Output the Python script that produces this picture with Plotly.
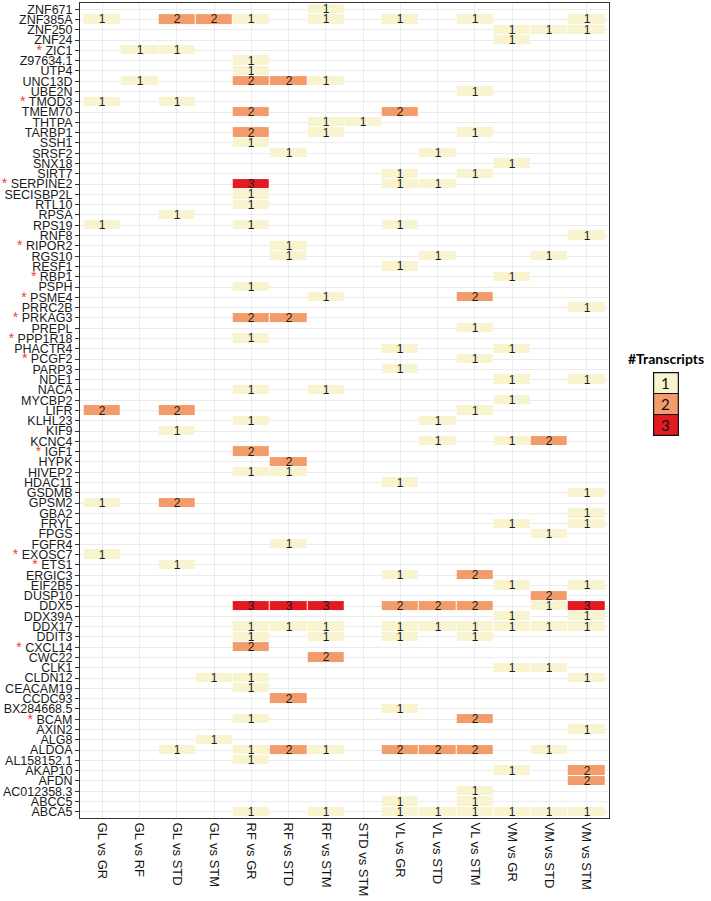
import plotly.graph_objects as go

comparisons = ["GL vs GR", "GL vs RF", "GL vs STD", "GL vs STM", "RF vs GR", "RF vs STD",
               "RF vs STM", "STD vs STM", "VL vs GR", "VL vs STD", "VL vs STM",
               "VM vs GR", "VM vs STD", "VM vs STM"]

genes = ["ZNF671", "ZNF385A", "ZNF250", "ZNF24", "ZIC1", "Z97634.1", "UTP4", "UNC13D", "UBE2N",
         "TMOD3", "TMEM70", "THTPA", "TARBP1", "SSH1", "SRSF2", "SNX18", "SIRT7", "SERPINE2",
         "SECISBP2L", "RTL10", "RPSA", "RPS19", "RNF8", "RIPOR2", "RGS10", "RESF1", "RBP1",
         "PSPH", "PSME4", "PRRC2B", "PRKAG3", "PREPL", "PPP1R18", "PHACTR4", "PCGF2", "PARP3",
         "NDE1", "NACA", "MYCBP2", "LIFR", "KLHL23", "KIF9", "KCNC4", "IGF1", "HYPK", "HIVEP2",
         "HDAC11", "GSDMB", "GPSM2", "GBA2", "FRYL", "FPGS", "FGFR4", "EXOSC7", "ETS1", "ERGIC3",
         "EIF2B5", "DUSP10", "DDX5", "DDX39A", "DDX17", "DDIT3", "CXCL14", "CWC22", "CLK1",
         "CLDN12", "CEACAM19", "CCDC93", "BX284668.5", "BCAM", "AXIN2", "ALG8", "ALDOA",
         "AL158152.1", "AKAP10", "AFDN", "AC012358.3", "ABCC5", "ABCA5"]

starred = ["ZIC1", "TMOD3", "SERPINE2", "RIPOR2", "RBP1", "PSME4", "PRKAG3", "PPP1R18",
           "PCGF2", "IGF1", "EXOSC7", "ETS1", "CXCL14", "BCAM"]

# number of transcripts per gene (rows, same order as genes) and comparison (columns); 0 = none
counts = [
    [0, 0, 0, 0, 0, 0, 1, 0, 0, 0, 0, 0, 0, 0],  # ZNF671
    [1, 0, 2, 2, 1, 0, 1, 0, 1, 0, 1, 0, 0, 1],  # ZNF385A
    [0, 0, 0, 0, 0, 0, 0, 0, 0, 0, 0, 1, 1, 1],  # ZNF250
    [0, 0, 0, 0, 0, 0, 0, 0, 0, 0, 0, 1, 0, 0],  # ZNF24
    [0, 1, 1, 0, 0, 0, 0, 0, 0, 0, 0, 0, 0, 0],  # ZIC1
    [0, 0, 0, 0, 1, 0, 0, 0, 0, 0, 0, 0, 0, 0],  # Z97634.1
    [0, 0, 0, 0, 1, 0, 0, 0, 0, 0, 0, 0, 0, 0],  # UTP4
    [0, 1, 0, 0, 2, 2, 1, 0, 0, 0, 0, 0, 0, 0],  # UNC13D
    [0, 0, 0, 0, 0, 0, 0, 0, 0, 0, 1, 0, 0, 0],  # UBE2N
    [1, 0, 1, 0, 0, 0, 0, 0, 0, 0, 0, 0, 0, 0],  # TMOD3
    [0, 0, 0, 0, 2, 0, 0, 0, 2, 0, 0, 0, 0, 0],  # TMEM70
    [0, 0, 0, 0, 0, 0, 1, 1, 0, 0, 0, 0, 0, 0],  # THTPA
    [0, 0, 0, 0, 2, 0, 1, 0, 0, 0, 1, 0, 0, 0],  # TARBP1
    [0, 0, 0, 0, 1, 0, 0, 0, 0, 0, 0, 0, 0, 0],  # SSH1
    [0, 0, 0, 0, 0, 1, 0, 0, 0, 1, 0, 0, 0, 0],  # SRSF2
    [0, 0, 0, 0, 0, 0, 0, 0, 0, 0, 0, 1, 0, 0],  # SNX18
    [0, 0, 0, 0, 0, 0, 0, 0, 1, 0, 1, 0, 0, 0],  # SIRT7
    [0, 0, 0, 0, 3, 0, 0, 0, 1, 1, 0, 0, 0, 0],  # SERPINE2
    [0, 0, 0, 0, 1, 0, 0, 0, 0, 0, 0, 0, 0, 0],  # SECISBP2L
    [0, 0, 0, 0, 1, 0, 0, 0, 0, 0, 0, 0, 0, 0],  # RTL10
    [0, 0, 1, 0, 0, 0, 0, 0, 0, 0, 0, 0, 0, 0],  # RPSA
    [1, 0, 0, 0, 1, 0, 0, 0, 1, 0, 0, 0, 0, 0],  # RPS19
    [0, 0, 0, 0, 0, 0, 0, 0, 0, 0, 0, 0, 0, 1],  # RNF8
    [0, 0, 0, 0, 0, 1, 0, 0, 0, 0, 0, 0, 0, 0],  # RIPOR2
    [0, 0, 0, 0, 0, 1, 0, 0, 0, 1, 0, 0, 1, 0],  # RGS10
    [0, 0, 0, 0, 0, 0, 0, 0, 1, 0, 0, 0, 0, 0],  # RESF1
    [0, 0, 0, 0, 0, 0, 0, 0, 0, 0, 0, 1, 0, 0],  # RBP1
    [0, 0, 0, 0, 1, 0, 0, 0, 0, 0, 0, 0, 0, 0],  # PSPH
    [0, 0, 0, 0, 0, 0, 1, 0, 0, 0, 2, 0, 0, 0],  # PSME4
    [0, 0, 0, 0, 0, 0, 0, 0, 0, 0, 0, 0, 0, 1],  # PRRC2B
    [0, 0, 0, 0, 2, 2, 0, 0, 0, 0, 0, 0, 0, 0],  # PRKAG3
    [0, 0, 0, 0, 0, 0, 0, 0, 0, 0, 1, 0, 0, 0],  # PREPL
    [0, 0, 0, 0, 1, 0, 0, 0, 0, 0, 0, 0, 0, 0],  # PPP1R18
    [0, 0, 0, 0, 0, 0, 0, 0, 1, 0, 0, 1, 0, 0],  # PHACTR4
    [0, 0, 0, 0, 0, 0, 0, 0, 0, 0, 1, 0, 0, 0],  # PCGF2
    [0, 0, 0, 0, 0, 0, 0, 0, 1, 0, 0, 0, 0, 0],  # PARP3
    [0, 0, 0, 0, 0, 0, 0, 0, 0, 0, 0, 1, 0, 1],  # NDE1
    [0, 0, 0, 0, 1, 0, 1, 0, 0, 0, 0, 0, 0, 0],  # NACA
    [0, 0, 0, 0, 0, 0, 0, 0, 0, 0, 0, 1, 0, 0],  # MYCBP2
    [2, 0, 2, 0, 0, 0, 0, 0, 0, 0, 1, 0, 0, 0],  # LIFR
    [0, 0, 0, 0, 1, 0, 0, 0, 0, 1, 0, 0, 0, 0],  # KLHL23
    [0, 0, 1, 0, 0, 0, 0, 0, 0, 0, 0, 0, 0, 0],  # KIF9
    [0, 0, 0, 0, 0, 0, 0, 0, 0, 1, 0, 1, 2, 0],  # KCNC4
    [0, 0, 0, 0, 2, 0, 0, 0, 0, 0, 0, 0, 0, 0],  # IGF1
    [0, 0, 0, 0, 0, 2, 0, 0, 0, 0, 0, 0, 0, 0],  # HYPK
    [0, 0, 0, 0, 1, 1, 0, 0, 0, 0, 0, 0, 0, 0],  # HIVEP2
    [0, 0, 0, 0, 0, 0, 0, 0, 1, 0, 0, 0, 0, 0],  # HDAC11
    [0, 0, 0, 0, 0, 0, 0, 0, 0, 0, 0, 0, 0, 1],  # GSDMB
    [1, 0, 2, 0, 0, 0, 0, 0, 0, 0, 0, 0, 0, 0],  # GPSM2
    [0, 0, 0, 0, 0, 0, 0, 0, 0, 0, 0, 0, 0, 1],  # GBA2
    [0, 0, 0, 0, 0, 0, 0, 0, 0, 0, 0, 1, 0, 1],  # FRYL
    [0, 0, 0, 0, 0, 0, 0, 0, 0, 0, 0, 0, 1, 0],  # FPGS
    [0, 0, 0, 0, 0, 1, 0, 0, 0, 0, 0, 0, 0, 0],  # FGFR4
    [1, 0, 0, 0, 0, 0, 0, 0, 0, 0, 0, 0, 0, 0],  # EXOSC7
    [0, 0, 1, 0, 0, 0, 0, 0, 0, 0, 0, 0, 0, 0],  # ETS1
    [0, 0, 0, 0, 0, 0, 0, 0, 1, 0, 2, 0, 0, 0],  # ERGIC3
    [0, 0, 0, 0, 0, 0, 0, 0, 0, 0, 0, 1, 0, 1],  # EIF2B5
    [0, 0, 0, 0, 0, 0, 0, 0, 0, 0, 0, 0, 2, 0],  # DUSP10
    [0, 0, 0, 0, 3, 3, 3, 0, 2, 2, 2, 0, 1, 3],  # DDX5
    [0, 0, 0, 0, 0, 0, 0, 0, 0, 0, 0, 1, 0, 1],  # DDX39A
    [0, 0, 0, 0, 1, 1, 1, 0, 1, 1, 1, 1, 1, 1],  # DDX17
    [0, 0, 0, 0, 1, 0, 1, 0, 1, 0, 1, 0, 0, 0],  # DDIT3
    [0, 0, 0, 0, 2, 0, 0, 0, 0, 0, 0, 0, 0, 0],  # CXCL14
    [0, 0, 0, 0, 0, 0, 2, 0, 0, 0, 0, 0, 0, 0],  # CWC22
    [0, 0, 0, 0, 0, 0, 0, 0, 0, 0, 0, 1, 1, 0],  # CLK1
    [0, 0, 0, 1, 1, 0, 0, 0, 0, 0, 0, 0, 0, 1],  # CLDN12
    [0, 0, 0, 0, 1, 0, 0, 0, 0, 0, 0, 0, 0, 0],  # CEACAM19
    [0, 0, 0, 0, 0, 2, 0, 0, 0, 0, 0, 0, 0, 0],  # CCDC93
    [0, 0, 0, 0, 0, 0, 0, 0, 1, 0, 0, 0, 0, 0],  # BX284668.5
    [0, 0, 0, 0, 1, 0, 0, 0, 0, 0, 2, 0, 0, 0],  # BCAM
    [0, 0, 0, 0, 0, 0, 0, 0, 0, 0, 0, 0, 0, 1],  # AXIN2
    [0, 0, 0, 1, 0, 0, 0, 0, 0, 0, 0, 0, 0, 0],  # ALG8
    [0, 0, 1, 0, 1, 2, 1, 0, 2, 2, 2, 0, 1, 0],  # ALDOA
    [0, 0, 0, 0, 1, 0, 0, 0, 0, 0, 0, 0, 0, 0],  # AL158152.1
    [0, 0, 0, 0, 0, 0, 0, 0, 0, 0, 0, 1, 0, 2],  # AKAP10
    [0, 0, 0, 0, 0, 0, 0, 0, 0, 0, 0, 0, 0, 2],  # AFDN
    [0, 0, 0, 0, 0, 0, 0, 0, 0, 0, 1, 0, 0, 0],  # AC012358.3
    [0, 0, 0, 0, 0, 0, 0, 0, 1, 0, 1, 0, 0, 0],  # ABCC5
    [0, 0, 0, 0, 1, 0, 1, 0, 1, 1, 1, 1, 1, 1],  # ABCA5
]

levels = [1, 2, 3]
level_colors = ["#F7F4CF", "#F39C6B", "#E31A1F"]
legend_title = "#Transcripts"

# ---- build ----
z = [[(v if v else None) for v in row] for row in counts]
text = [[(str(v) if v else "") for v in row] for row in counts]

n = len(levels)
colorscale = []
for i, c in enumerate(level_colors):
    colorscale.append([i / n, c])
    colorscale.append([(i + 1) / n, c])

ticktext = [("<span style='color:#F0403A;font-size:14px'>*</span> " + g) if g in starred else g
            for g in genes]

W, H = 711, 901
ML, MR, MT, MB = 75, 102, 2, 83
PW, PH = W - ML - MR, H - MT - MB

fig = go.Figure(go.Heatmap(
    z=z, x=comparisons, y=genes, text=text, texttemplate="%{text}",
    textfont=dict(size=12, color="#1a1a1a", family="Liberation Sans, Arial"),
    colorscale=colorscale, zmin=0.5, zmax=n + 0.5, showscale=False,
    xgap=1, ygap=1, hoverongaps=False,
))

fig.update_xaxes(
    type="category", categoryorder="array", categoryarray=comparisons,
    range=[-0.6, len(comparisons) - 0.4],
    showgrid=True, gridcolor="#EBEBEB", gridwidth=1, zeroline=False,
    showline=True, mirror=True, linecolor="#333333", linewidth=1,
    ticks="outside", ticklen=1, tickcolor="rgba(0,0,0,0)",
    tickangle=90, tickfont=dict(size=13, color="#111111", family="Liberation Sans, Arial"),
)
fig.update_yaxes(
    type="category", categoryorder="array", categoryarray=genes,
    tickmode="array", tickvals=genes, ticktext=ticktext,
    range=[len(genes) - 0.4, -0.6],
    showgrid=True, gridcolor="#EBEBEB", gridwidth=1, zeroline=False,
    showline=True, mirror=True, linecolor="#333333", linewidth=1,
    ticks="outside", ticklen=4, tickcolor="#333333", tickwidth=1,
    tickfont=dict(size=12.5, color="#1a1a1a", family="Liberation Sans, Arial"),
)


def px_x(px):
    return (px - ML) / PW


def px_y(py):
    return 1 - (py - MT) / PH


shapes = []
annotations = []
box_x0, box_x1 = 654, 679
box_top, box_h = 372, 21
for i, (lvl, col) in enumerate(zip(levels, level_colors)):
    y0 = box_top + i * box_h
    shapes.append(dict(type="rect", xref="paper", yref="paper",
                       x0=px_x(box_x0), x1=px_x(box_x1), y0=px_y(y0), y1=px_y(y0 + box_h),
                       fillcolor=col, line=dict(color="#111111", width=1.2)))
    annotations.append(dict(xref="paper", yref="paper", x=px_x((box_x0 + box_x1) / 2),
                            y=px_y(y0 + box_h / 2), text=str(lvl), showarrow=False,
                            xanchor="center", yanchor="middle",
                            font=dict(size=15, color="#111111", family="Lato")))
annotations.append(dict(xref="paper", yref="paper", x=px_x(666.5), y=px_y(358),
                        text="<b>" + legend_title + "</b>", showarrow=False,
                        xanchor="center", yanchor="middle",
                        font=dict(size=14, color="#000000", family="Lato")))

fig.update_layout(
    width=W, height=H, margin=dict(l=ML, r=MR, t=MT, b=MB),
    paper_bgcolor="white", plot_bgcolor="white",
    shapes=shapes, annotations=annotations, showlegend=False,
)

fig.write_html("out.html", config={"displayModeBar": False},
               post_script="document.body.style.margin='0px';")
